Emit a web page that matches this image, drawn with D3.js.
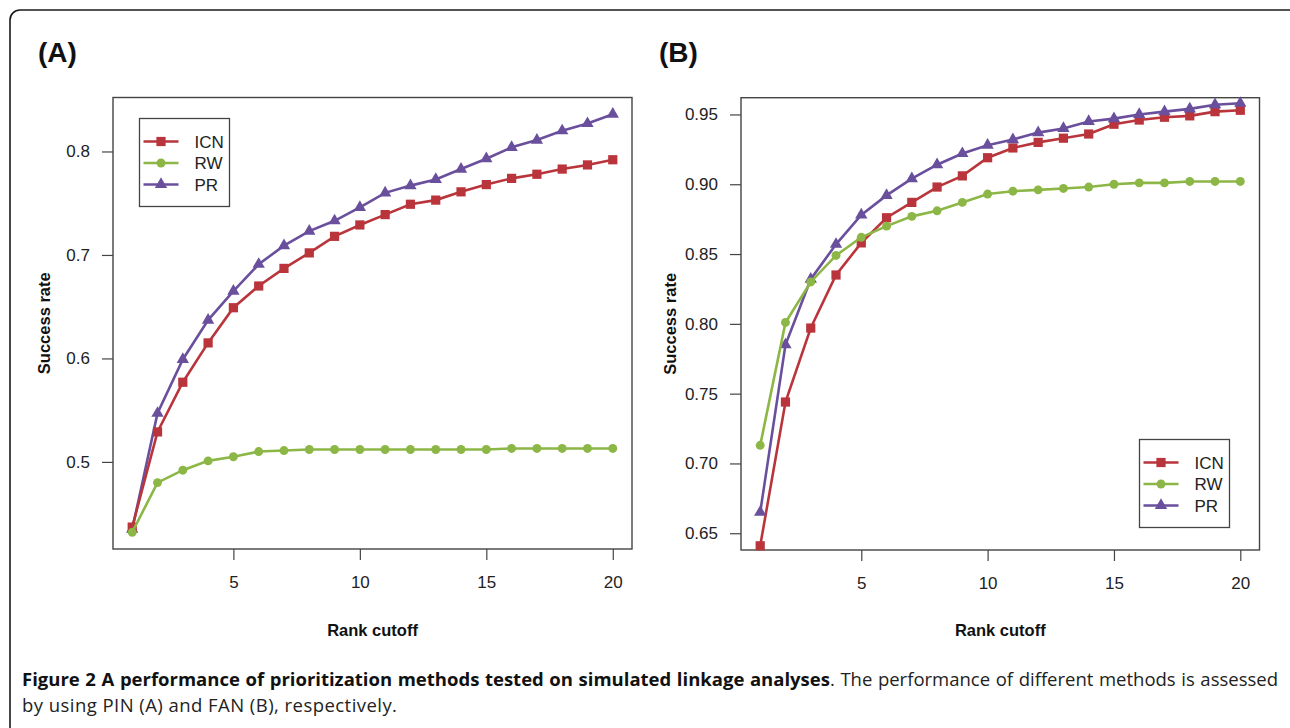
<!DOCTYPE html>
<html>
<head>
<meta charset="utf-8">
<script src="https://cdn.jsdelivr.net/npm/d3@7/dist/d3.min.js"></script>
<style>
  body { margin: 0; background: #fff; }
  svg { display: block; }
  .tick-label { font-family: "Liberation Sans", Arial, sans-serif; font-size: 17px; fill: #222; }
  .axis-title { font-family: "Liberation Sans", Arial, sans-serif; font-size: 16.5px; font-weight: bold; fill: #111; }
  .panel-tag { font-family: "Liberation Sans", Arial, sans-serif; font-size: 28px; font-weight: bold; fill: #111; }
  .caption { font-family: "Open Sans", "Noto Sans", sans-serif; font-size: 18.5px; fill: #222; }
</style>
</head>
<body>
<svg id="fig" width="1290" height="728"></svg>
<script>
//////////////////////////////////////////////////////////////////////////////// DATA
var rankCutoff = [1, 2, 3, 4, 5, 6, 7, 8, 9, 10, 11, 12, 13, 14, 15, 16, 17, 18, 19, 20];
var methods = ["ICN", "RW", "PR"];

// (A) PIN
var icnA = [0.437, 0.529, 0.577, 0.615, 0.649, 0.670, 0.687, 0.702, 0.718, 0.729,
            0.739, 0.749, 0.753, 0.761, 0.768, 0.774, 0.778, 0.783, 0.787, 0.792];
var rwA  = [0.432, 0.480, 0.492, 0.501, 0.505, 0.510, 0.511, 0.512, 0.512, 0.512,
            0.512, 0.512, 0.512, 0.512, 0.512, 0.513, 0.513, 0.513, 0.513, 0.513];
var prA  = [0.435, 0.547, 0.599, 0.637, 0.665, 0.691, 0.709, 0.723, 0.733, 0.746,
            0.760, 0.767, 0.773, 0.783, 0.793, 0.804, 0.811, 0.820, 0.827, 0.836];
var yTicksA = [0.5, 0.6, 0.7, 0.8];

// (B) FAN
var icnB = [0.641, 0.744, 0.797, 0.835, 0.858, 0.876, 0.887, 0.898, 0.906, 0.919,
            0.926, 0.930, 0.933, 0.936, 0.943, 0.946, 0.948, 0.949, 0.952, 0.953];
var rwB  = [0.713, 0.801, 0.830, 0.849, 0.862, 0.870, 0.877, 0.881, 0.887, 0.893,
            0.895, 0.896, 0.897, 0.898, 0.900, 0.901, 0.901, 0.902, 0.902, 0.902];
var prB  = [0.665, 0.785, 0.832, 0.857, 0.878, 0.892, 0.904, 0.914, 0.922, 0.928,
            0.932, 0.937, 0.940, 0.945, 0.947, 0.950, 0.952, 0.954, 0.957, 0.958];
var yTicksB = [0.65, 0.70, 0.75, 0.80, 0.85, 0.90, 0.95];
var yLimB = [0.65, 0.95];

var xTicks = [5, 10, 15, 20];

var colors = { ICN: "#b9353b", RW: "#8cb746", PR: "#6a4f9d" };
var shapes = { ICN: d3.symbolSquare, RW: d3.symbolCircle, PR: d3.symbolTriangle };
var sizes  = { ICN: 85, RW: 62, PR: 66 };

var svg = d3.select("#fig");

//////////////////////////////////////////////////////////////////////////////// FRAME
svg.append("rect")
  .attr("x", 10).attr("y", 10)
  .attr("width", 1300).attr("height", 740)
  .attr("rx", 10).attr("ry", 10)
  .attr("fill", "none")
  .attr("stroke", "#1a1a1a")
  .attr("stroke-width", 1.6);

//////////////////////////////////////////////////////////////////////////////// PANEL
// R style padding: 4% on each side of the limits
var padded = function (lo, hi) {
  var p = (hi - lo) * 0.04;
  return [lo - p, hi + p];
};

var drawPanel = function (opt) {
  var g = svg.append("g");
  var x = d3.scaleLinear()
    .domain(padded(d3.min(rankCutoff), d3.max(rankCutoff)))
    .range([opt.left, opt.right]);
  var y = d3.scaleLinear()
    .domain(padded(opt.ylim[0], opt.ylim[1]))
    .range([opt.bottom, opt.top]);

  g.append("text").attr("class", "panel-tag")
    .attr("x", opt.tagX).attr("y", 62)
    .text(opt.tag);

  // axes
  var xAxis = g.append("g")
    .attr("transform", "translate(0," + opt.bottom + ")")
    .call(d3.axisBottom(x).tickValues(xTicks).tickSize(11).tickPadding(16).tickFormat(d3.format("d")));
  var yAxis = g.append("g")
    .attr("transform", "translate(" + opt.left + ",0)")
    .call(d3.axisLeft(y).tickValues(opt.yTicks).tickSize(11).tickPadding(12).tickFormat(d3.format(opt.fmt)));
  [xAxis, yAxis].forEach(function (a) {
    a.select(".domain").remove();
    a.selectAll("line").attr("stroke", "#444").attr("stroke-width", 1.2);
    a.selectAll("text").attr("class", "tick-label").attr("font-size", null).attr("font-family", null).attr("fill", null);
  });

  // box
  g.append("rect")
    .attr("x", opt.left).attr("y", opt.top)
    .attr("width", opt.right - opt.left).attr("height", opt.bottom - opt.top)
    .attr("fill", "none").attr("stroke", "#444").attr("stroke-width", 1.4);

  g.append("text").attr("class", "axis-title")
    .attr("x", (opt.left + opt.right) / 2).attr("y", 636)
    .attr("text-anchor", "middle")
    .text("Rank cutoff");
  g.append("text").attr("class", "axis-title")
    .attr("transform", "translate(" + opt.yTitleX + "," + (opt.top + opt.bottom) / 2 + ") rotate(-90)")
    .attr("text-anchor", "middle")
    .text("Success rate");

  // series
  var line = d3.line()
    .x(function (d, i) { return x(rankCutoff[i]); })
    .y(function (d) { return y(d); });

  opt.order.forEach(function (m) {
    var vals = opt.series[m];
    g.append("path")
      .datum(vals)
      .attr("d", line)
      .attr("fill", "none")
      .attr("stroke", colors[m])
      .attr("stroke-width", 2.6);
    g.selectAll(null)
      .data(vals)
      .enter().append("path")
      .attr("transform", function (d, i) { return "translate(" + x(rankCutoff[i]) + "," + y(d) + ")"; })
      .attr("d", d3.symbol().type(shapes[m]).size(sizes[m]))
      .attr("fill", colors[m]);
  });

  // legend
  var lg = g.append("g").attr("transform", "translate(" + opt.legend[0] + "," + opt.legend[1] + ")");
  lg.append("rect")
    .attr("width", 90).attr("height", 88)
    .attr("fill", "#fff").attr("stroke", "#444").attr("stroke-width", 1.3);
  methods.forEach(function (m, i) {
    var row = lg.append("g").attr("transform", "translate(0," + (23 + i * 21.5) + ")");
    row.append("line")
      .attr("x1", 4).attr("x2", 39)
      .attr("stroke", colors[m]).attr("stroke-width", 2.6);
    row.append("path")
      .attr("transform", "translate(21.5,0)")
      .attr("d", d3.symbol().type(shapes[m]).size(sizes[m]))
      .attr("fill", colors[m]);
    row.append("text").attr("class", "tick-label")
      .attr("x", 55).attr("dy", "0.36em")
      .text(m);
  });
};

drawPanel({
  tag: "(A)", tagX: 38,
  left: 113, right: 632, top: 97.5, bottom: 549,
  ylim: d3.extent(icnA.concat(rwA, prA)),
  yTicks: yTicksA, fmt: ".1f",
  yTitleX: 50,
  series: { ICN: icnA, RW: rwA, PR: prA },
  order: ["PR", "ICN", "RW"],
  legend: [139.5, 118.5]
});

drawPanel({
  tag: "(B)", tagX: 659,
  left: 741, right: 1259.5, top: 97.7, bottom: 550,
  ylim: yLimB,
  yTicks: yTicksB, fmt: ".2f",
  yTitleX: 676,
  series: { ICN: icnB, RW: rwB, PR: prB },
  order: ["ICN", "PR", "RW"],
  legend: [1139.5, 439.5]
});

//////////////////////////////////////////////////////////////////////////////// CAPTION
var cap1 = svg.append("text").attr("class", "caption")
  .attr("x", 22).attr("y", 686);
cap1.append("tspan").attr("font-weight", "bold").attr("fill", "#111")
  .text("Figure 2 A performance of prioritization methods tested on simulated linkage analyses");
cap1.append("tspan")
  .text(". The performance of different methods is assessed");

// justify the first line to the right margin
var natural = cap1.node().getComputedTextLength();
var spaces = cap1.text().split(" ").length - 1;
cap1.attr("word-spacing", ((1278 - 22) - natural) / spaces);

svg.append("text").attr("class", "caption")
  .attr("x", 22).attr("y", 712)
  .attr("letter-spacing", 0.45)
  .text("by using PIN (A) and FAN (B), respectively.");
</script>
</body>
</html>
